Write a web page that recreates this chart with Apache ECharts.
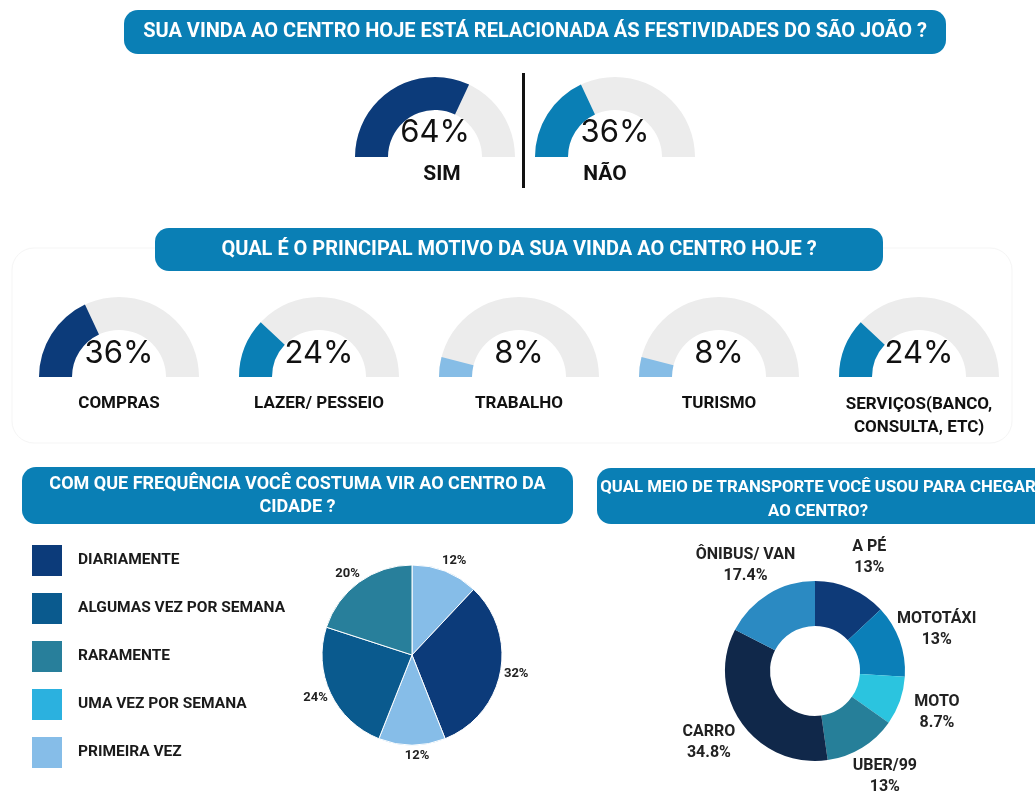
<!DOCTYPE html>
<html><head><meta charset="utf-8">
<script src="https://cdn.jsdelivr.net/npm/echarts@6/dist/echarts.min.js"></script>
<style>html,body{margin:0;padding:0;background:#fff}#c{width:1035px;height:800px}</style>
</head><body><div id="c"></div>
<script>
// ---- data ----
const q1Labels = ['SIM', 'NÃO'];
const q1Values = [64, 36];
const q2Labels = ['COMPRAS', 'LAZER/ PESSEIO', 'TRABALHO', 'TURISMO', 'SERVIÇOS(BANCO,\nCONSULTA, ETC)'];
const q2Values = [36, 24, 8, 8, 24];
const freqLegend = ['DIARIAMENTE', 'ALGUMAS VEZ POR SEMANA', 'RARAMENTE', 'UMA VEZ POR SEMANA', 'PRIMEIRA VEZ'];
const freqSlices = ['PRIMEIRA VEZ', 'DIARIAMENTE', 'UMA VEZ POR SEMANA', 'ALGUMAS VEZ POR SEMANA', 'RARAMENTE'];
const freqValues = [12, 32, 12, 24, 20];
const transLabels = ['A PÉ', 'MOTOTÁXI', 'MOTO', 'UBER/99', 'CARRO', 'ÔNIBUS/ VAN'];
const transValues = [13, 13, 8.7, 13, 34.8, 17.4];
const titles = [
  'SUA VINDA AO CENTRO HOJE ESTÁ RELACIONADA ÁS FESTIVIDADES DO SÃO JOÃO ?',
  'QUAL É O PRINCIPAL MOTIVO DA SUA VINDA AO CENTRO HOJE ?',
  'COM QUE FREQUÊNCIA VOCÊ COSTUMA VIR AO CENTRO DA\nCIDADE ?',
  'QUAL MEIO DE TRANSPORTE VOCÊ USOU PARA CHEGAR\nAO CENTRO?'
];

// ---- styles / layout ----
const NAVY = '#0c3b7a', BLUE = '#0a7fb5', LIGHT = '#86bde6', TRACK = '#ececec';
const q1Colors = [NAVY, BLUE];
const q2Colors = [NAVY, BLUE, LIGHT, LIGHT, BLUE];
const legendColors = ['#0c3b7a', '#0a5a8e', '#287f9b', '#2bb1df', '#86bde8'];
const sliceColors = ['#86bde8', '#0c3b7a', '#86bde8', '#0a5a8e', '#287f9b'];
const transColors = ['#0e3a78', '#0b7fb8', '#2bc4df', '#267f99', '#10284a', '#2b8ac2'];
const FONT = 'Roboto, "Liberation Sans", sans-serif';

function gauge(center, value, name, color, titleOff, detailOff, titleSize) {
  return {
    type: 'gauge', center: center, radius: 80, startAngle: 180, endAngle: 0, min: 0, max: 100,
    axisLine: { lineStyle: { width: 33, color: [[1, TRACK]] } },
    progress: { show: true, width: 33 },
    pointer: { show: false }, anchor: { show: false },
    axisTick: { show: false }, splitLine: { show: false }, axisLabel: { show: false },
    title: { offsetCenter: titleOff, fontSize: titleSize, fontWeight: 'bold', color: '#111', fontFamily: FONT, lineHeight: 23 },
    detail: { offsetCenter: detailOff, formatter: '{value}%', fontSize: 31, fontWeight: 'normal', color: '#111', fontFamily: 'Inter, Lato, sans-serif' },
    data: [{ value: value, name: name, itemStyle: { color: color } }]
  };
}

const series = [];
const q1Centers = [[435, 157], [615, 157]];
const q1TitleOff = [[7, 18], [-10, 18]];
q1Values.forEach((v, i) => series.push(gauge(q1Centers[i], v, q1Labels[i], q1Colors[i], q1TitleOff[i], [0, -24], 21)));
const q2X = [119, 319, 519, 719, 919];
q2Values.forEach((v, i) => series.push(gauge([q2X[i], 377], v, q2Labels[i], q2Colors[i],
  [0, q2Labels[i].indexOf('\n') >= 0 ? 39 : 27], [0, -23], 17)));

series.push({
  type: 'pie', center: [412, 655], radius: 90, startAngle: 90, clockwise: true,
  data: freqSlices.map((n, i) => ({ name: n, value: freqValues[i], itemStyle: { color: sliceColors[i] } })),
  itemStyle: { borderColor: '#fff', borderWidth: 1 },
  label: { position: 'outside', formatter: '{c}%', fontSize: 13, fontWeight: 'bold', color: '#222', fontFamily: FONT },
  labelLine: { show: false, length: 11, length2: 0 },
  labelLayout: { align: 'center', verticalAlign: 'middle' },
  emphasis: { disabled: true }
});

series.push({
  type: 'pie', center: [815, 671], radius: [45, 90], startAngle: 90, clockwise: true,
  data: transLabels.map((n, i) => ({ name: n, value: transValues[i], itemStyle: { color: transColors[i] } })),
  label: { position: 'outside', formatter: '{b}\n{c}%', fontSize: 16, lineHeight: 21, fontWeight: 'bold', color: '#222', fontFamily: FONT },
  labelLine: { show: false, length: 34, length2: 0 },
  labelLayout: { align: 'center', verticalAlign: 'middle' },
  emphasis: { disabled: true }
});

function banner(x, y, w, h, text, fs, lh, tx, ty) {
  return [
    { type: 'rect', shape: { x: x, y: y, width: w, height: h, r: 14 }, style: { fill: BLUE }, z: 1 },
    { type: 'text', x: tx != null ? tx : x + w / 2, y: ty != null ? ty : y + h / 2, z: 2,
      style: { text: text, fill: '#fff', font: 'bold ' + fs + 'px ' + FONT, align: 'center', verticalAlign: 'middle', lineHeight: lh } }
  ];
}

const graphic = [].concat(
  [{ type: 'rect', shape: { x: 12, y: 248, width: 1000, height: 195, r: 22 }, style: { fill: '#fff', stroke: '#f5f5f5', lineWidth: 1 }, z: 0 }],
  banner(124, 10, 822, 44, titles[0], 20),
  banner(155, 228, 728, 43, titles[1], 20),
  banner(22, 467, 551, 57, titles[2], 18, 23),
  banner(597, 468, 470, 56, titles[3], 16.8, 24, 818, 500),
  [{ type: 'rect', shape: { x: 522, y: 73, width: 3, height: 115 }, style: { fill: '#111' }, z: 2 }]
);

const chart = echarts.init(document.getElementById('c'), null, { renderer: 'canvas' });
chart.setOption({
  animation: false,
  backgroundColor: '#fff',
  legend: {
    orient: 'vertical', left: 30, top: 543, padding: 0, itemWidth: 32, itemHeight: 33, itemGap: 13,
    icon: 'rect', selectedMode: false,
    textStyle: { fontSize: 15.5, fontWeight: 'bold', color: '#1a1a1a', fontFamily: FONT, padding: [0, 0, 0, 10] },
    data: freqLegend.map((n, i) => ({ name: n, itemStyle: { color: legendColors[i] } }))
  },
  graphic: graphic,
  series: series
});
</script>
</body></html>
